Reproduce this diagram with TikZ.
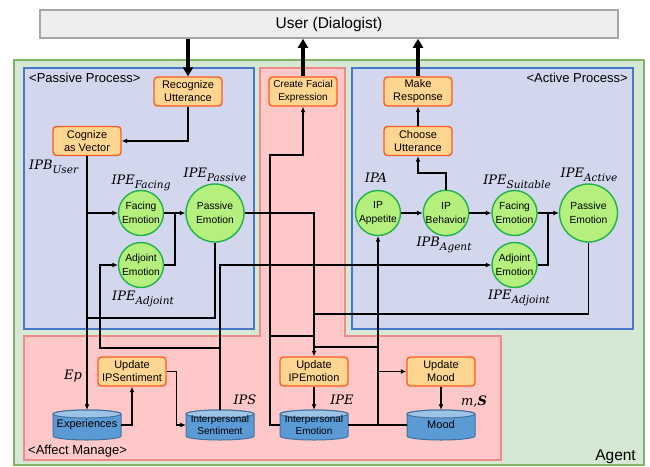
\documentclass[tikz,border=0pt]{standalone}
\usepackage{fontspec}
\setsansfont{Liberation Sans}
\renewcommand{\familydefault}{\sfdefault}
\newfontfamily\varfont{DejaVu Serif}
\usetikzlibrary{arrows.meta}

\definecolor{agentfill}{HTML}{D5E8D4}
\definecolor{agentline}{HTML}{82B366}
\definecolor{procfill}{HTML}{D2D7ED}
\definecolor{procline}{HTML}{4A78C8}
\definecolor{affectfill}{HTML}{FFC8C8}
\definecolor{affectline}{HTML}{EE8A8A}
\definecolor{stepfill}{HTML}{FFD592}
\definecolor{stepline}{HTML}{FF5A1F}
\definecolor{emofill}{HTML}{B5F07E}
\definecolor{emoline}{HTML}{20B24A}
\definecolor{cylfill}{HTML}{5B9BD5}
\definecolor{cyltopfill}{HTML}{9DC3E6}
\definecolor{cylline}{HTML}{41719C}
\definecolor{userfill}{HTML}{EEEEEE}
\definecolor{userline}{HTML}{A6A6A6}

% italic variable name with a lowered, smaller index
\newcommand\vlab[2]{{\varfont\itshape #1\raisebox{-3.5pt}{\fontsize{10.5}{12}\selectfont #2}}}

% database drum drawn behind a storage node: #1 = x, #2 = y of its centre
\newcommand\drum[2]{%
  \filldraw[drumbody] (#1-34,#2-11) -- (#1-34,#2+11)
    arc[start angle=180,end angle=360,x radius=34pt,y radius=4pt]
    -- (#1+34,#2-11)
    arc[start angle=0,end angle=180,x radius=34pt,y radius=4pt] -- cycle;
  \filldraw[drumtop] (#1,#2-11) ellipse[x radius=34pt,y radius=4pt];
}

\tikzset{
  agentbox/.style={fill=agentfill, draw=agentline, line width=1.5pt},
  procbox/.style={fill=procfill, draw=procline, line width=1.2pt},
  affectbox/.style={fill=affectfill, draw=affectline, line width=1.2pt},
  userbox/.style={rectangle, fill=userfill, draw=userline, line width=1.5pt,
    minimum width=578pt, minimum height=28pt, font=\fontsize{15.5}{18}\selectfont},
  stepbox/.style={rectangle, rounded corners=3.5pt, fill=stepfill, draw=stepline,
    line width=1.4pt, minimum width=68pt, minimum height=29pt, inner sep=1pt,
    align=center, font=\fontsize{11}{13}\selectfont},
  emo/.style={circle, fill=emofill, draw=emoline, line width=1.4pt,
    minimum size=45pt, inner sep=0pt, align=center, font=\fontsize{10.3}{13.5}\selectfont},
  emobig/.style={emo, minimum size=58pt},
  drumbody/.style={fill=cylfill, draw=cylline, line width=1pt},
  drumtop/.style={fill=cyltopfill, draw=cylline, line width=1pt},
  store/.style={rectangle, minimum width=68pt, minimum height=30pt, inner sep=0pt,
    align=center, font=\fontsize{11}{13}\selectfont},
  storesmall/.style={store, font=\fontsize{10}{12.5}\selectfont},
  mlab/.style={inner sep=0pt, font=\fontsize{13}{15}\selectfont},
  title/.style={inner sep=0pt, font=\fontsize{13}{15}\selectfont},
  ln/.style={draw=black, line width=1.3pt},
  arr/.style={ln, -{Latex[length=5.5pt,width=5pt]}},
  bigarr/.style={draw=black, line width=3.5pt, -{Triangle[length=9pt,width=10pt]}},
}

\begin{document}
\begin{tikzpicture}[x=1pt,y=-1pt]
\useasboundingbox (0,0) rectangle (650,466);

% ---- regions ----
\filldraw[agentbox] (14,60) rectangle (644,465);
\filldraw[affectbox] (260,68) -- (345,68) -- (345,336) -- (501,336) -- (501,460)
  -- (24,460) -- (24,336) -- (260,336) -- cycle;
\filldraw[procbox] (24,68) rectangle (254,329);
\filldraw[procbox] (352,68) rectangle (633,329);

\node[title, anchor=west] (tPassive) at (29,78) {<Passive Process>};
\node[title, anchor=east] (tActive) at (628,78) {<Active Process>};
\node[title, anchor=west] (tAffect) at (28,451) {<Affect Manage>};
\node[inner sep=0pt, anchor=east, font=\fontsize{15.5}{18}\selectfont] (tAgent) at (636,457) {Agent};

% ---- user ----
\node[userbox] (user) at (329,24) {User (Dialogist)};

% ---- processing steps ----
\node[stepbox] (recog) at (188,91.5) {Recognize\\Utterance};
\node[stepbox] (cogn) at (87,141) {Cognize\\as Vector};
\node[stepbox, font=\fontsize{10}{12.5}\selectfont] (face) at (303,91.5) {Create Facial\\Expression};
\node[stepbox] (resp) at (418,91.5) {Make\\Response};
\node[stepbox] (choose) at (418,141) {Choose\\Utterance};
\node[stepbox] (ups) at (132,371.5) {Update\\IPSentiment};
\node[stepbox] (upe) at (314,371.5) {Update\\IPEmotion};
\node[stepbox] (umood) at (441,371.5) {Update\\Mood};

% ---- emotions (passive side) ----
\node[emo] (pf) at (141,213) {Facing\\Emotion};
\node[emobig] (pp) at (215,213) {Passive\\Emotion};
\node[emo] (pa) at (141,265) {Adjoint\\Emotion};

% ---- emotions (active side) ----
\node[emo] (ia) at (378,213) {IP\\Appetite};
\node[emo] (ib) at (446,213) {IP\\Behavior};
\node[emo] (af) at (514.5,213) {Facing\\Emotion};
\node[emobig] (ap) at (588.5,213) {Passive\\Emotion};
\node[emo] (aa) at (514.5,265) {Adjoint\\Emotion};

% ---- stores ----
\drum{87}{425}
\drum{220}{425}
\drum{314}{425}
\drum{441}{425}
\node[store] (exp) at (87,425) {\raisebox{-2pt}{Experiences}};
\node[storesmall] (ips) at (220,425) {\raisebox{-3pt}{\shortstack{Interpersonal\\Sentiment}}};
\node[storesmall] (ipe) at (314,425) {\raisebox{-3pt}{\shortstack{Interpersonal\\Emotion}}};
\node[store] (mood) at (441,425) {\raisebox{-2pt}{Mood}};

% ---- variable labels ----
\node[mlab, anchor=west] (lUser) at (29,167) {\vlab{IPB}{User}};
\node[mlab] (lPF) at (141,183) {\vlab{IPE}{Facing}};
\node[mlab] (lPP) at (215,175) {\vlab{IPE}{Passive}};
\node[mlab] (lPA) at (143,299) {\vlab{IPE}{Adjoint}};
\node[mlab] (lIPA) at (376,180) {\vlab{IPA}{}};
\node[mlab] (lSuit) at (517,182) {\vlab{IPE}{Suitable}};
\node[mlab] (lAct) at (589,175) {\vlab{IPE}{Active}};
\node[mlab] (lAgent) at (444,245) {\vlab{IPB}{Agent}};
\node[mlab] (lAA) at (519,298) {\vlab{IPE}{Adjoint}};
\node[mlab] (lEp) at (73,377) {\vlab{Ep}{}};
\node[mlab] (lIPS) at (245,401) {\vlab{IPS}{}};
\node[mlab] (lIPE) at (342,402) {\vlab{IPE}{}};
\node[mlab] (lMood) at (474,402) {{\varfont\itshape m,\bfseries S}};

% ---- junction points ----
\coordinate (jPass) at (87,318);
\coordinate (jMix) at (175,213);
\coordinate (jSent) at (220,348);
\coordinate (jAdj) at (100,265);
\coordinate (jAct) at (314,314);
\coordinate (jFace) at (270,155);
\coordinate (jPrevL) at (270,336);
\coordinate (jPrevR) at (314,336);
\coordinate (jMoodL) at (314,347);
\coordinate (jMoodR) at (378,347);
\coordinate (jBeh) at (446,173);
\coordinate (jMixA) at (548,213);

% ---- user interface ----
\draw[bigarr] (recog.north |- user.south) -- (recog.north);
\draw[bigarr] (face.north) -- (face.north |- user.south);
\draw[bigarr] (resp.north) -- (resp.north |- user.south);

% ---- passive process ----
\draw[arr] (recog.south) |- (cogn.east);
\draw[arr] (cogn.south) -- (exp.north);
\draw[arr] (cogn.south |- pf.west) -- (pf.west);
\draw[arr] (pf.east) -- (pp.west);
\draw[ln] (pa.east) -| (jMix);
\draw[ln] (pp.south) |- (jPass);
\draw[arr] (jSent) -| (jAdj) -- (pa.west);
\draw[arr] (pp.east) -| (upe.north);

% ---- affect management ----
\draw[arr] (ips.north) |- (aa.west);
\draw[ln] (ap.south) |- (jAct);
\draw[arr] (ipe.west) -| (jFace) -| (face.south);
\draw[ln] (jPrevL) -- (jPrevR);
\draw[ln] (ipe.east) -- (mood.west);
\draw[arr] (ia.south |- ipe.east) -- (ia.south);
\draw[ln] (jMoodR) -- (jMoodL);
\draw[arr] (ia.south |- umood.west) -- (umood.west);
\draw[arr] (umood.south) -- (mood.north);
\draw[arr] (upe.south) -- (ipe.north);
\draw[arr] (exp.east) -| (ups.south);
\draw[arr] (ups.east) -- ++(10,0) |- (ips.west);

% ---- active process ----
\draw[arr] (ia.east) -- (ib.west);
\draw[arr] (ib.east) -- (af.west);
\draw[arr] (af.east) -- (ap.west);
\draw[ln] (aa.east) -| (jMixA);
\draw[arr] (ib.north) -- (jBeh) -| (choose.south);
\draw[arr] (choose.north) -- (resp.south);
\end{tikzpicture}
\end{document}
